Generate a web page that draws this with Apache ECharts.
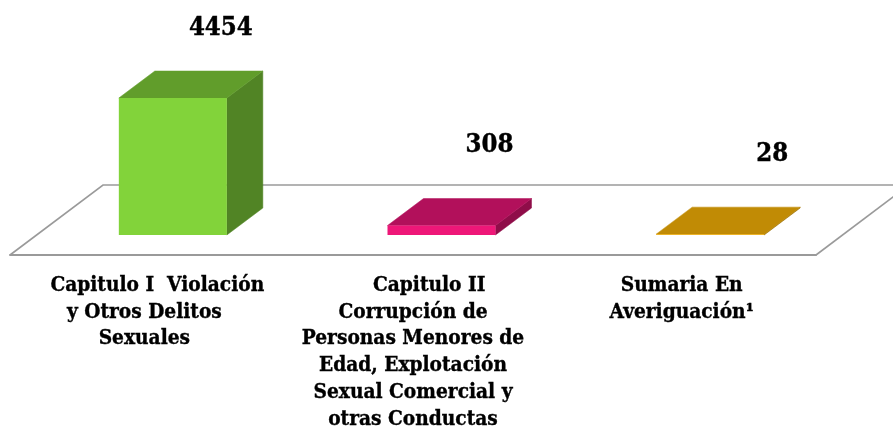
<!DOCTYPE html>
<html><head><meta charset="utf-8">
<style>html,body{margin:0;padding:0;background:#fff}#c{width:893px;height:427px}</style>
<script src="https://cdn.jsdelivr.net/npm/echarts@6/dist/echarts.min.js"></script>
</head><body><div id="c"></div>
<script>
const categories = [
  "    Capitulo I  Violación\ny Otros Delitos\nSexuales",
  "     Capitulo II\nCorrupción de\nPersonas Menores de\nEdad, Explotación\nSexual Comercial y\notras Conductas",
  "Sumaria En\nAveriguación¹"
];
const values = [4454, 308, 28];
const frontColors = ["#82D33A", "#EE1778", "#EFAC08"];
const topColors = ["#619D2B", "#B2105B", "#C18B05"];
const sideColors = ["#518425", "#8F0D49", "#9C7004"];
// layout (px offsets): hand-placed value labels relative to the bar's top
const labelNudgeX = [48, 48, 62];
const labelNudgeY = [-70, -80, -80];
const FONT = '"DejaVu Serif Condensed","DejaVu Serif",serif';
const chart = echarts.init(document.getElementById('c'), null, {renderer:'canvas'});
const DX = 36, DY = 27, SHIFT_X = 28.5, SHIFT_Y = 20, WIDTH_RATIO = 0.402;
chart.setOption({
  animation:false,
  backgroundColor:'#fff',
  grid:{left:10, width:806, top:118, bottom:172, containLabel:false, outerBoundsMode:'none'},
  xAxis:{type:'category', data:categories,
    axisLine:{show:true, lineStyle:{color:'#9a9a9a', width:2}},
    axisTick:{show:false},
    axisLabel:{interval:0, margin:17, hideOverlap:false, color:'#000', textBorderColor:'#000', textBorderWidth:0.35, fontFamily:FONT, fontWeight:'bold', fontSize:20.7, lineHeight:26.8, align:'center', verticalAlign:'top'}
  },
  yAxis:{type:'value', min:0, max:4454, show:false, splitLine:{show:false}},
  graphic:[{type:'polyline', z:0, silent:true,
    shape:{points:[[10,255],[103,185],[909,185]]},
    style:{stroke:'#9a9a9a', lineWidth:1.6, fill:null}},
    {type:'polyline', z:0, silent:true,
    shape:{points:[[816,255],[909,185]]},
    style:{stroke:'#9a9a9a', lineWidth:1.6, fill:null}}],
  series:[{type:'custom', clip:false, z:5, data:values.map((v,i)=>[i,v]),
    encode:{x:0,y:1},
    renderItem(params, api){
      const i = api.value(0);
      const top = api.coord([i, api.value(1)]);
      const base = api.coord([i, 0]);
      const w = api.size([1,0])[0]*WIDTH_RATIO;
      const l = top[0]+SHIFT_X-w/2, r = top[0]+SHIFT_X+w/2;
      const t = top[1]-SHIFT_Y, b = base[1]-SHIFT_Y;
      const poly = (pts,fill)=>({type:'polygon', shape:{points:pts}, style:{fill, stroke:fill, lineWidth:0.5}});
      return {type:'group', children:[
        poly([[r,b],[r+DX,b-DY],[r+DX,t-DY],[r,t]], sideColors[i]),
        poly([[l,t],[l+DX,t-DY],[r+DX,t-DY],[r,t]], topColors[i]),
        {type:'rect', shape:{x:l,y:t,width:r-l,height:b-t}, style:{fill:frontColors[i]}},
        {type:'text', x:top[0]+SHIFT_X+labelNudgeX[i], y:t+labelNudgeY[i],
         style:{text:String(api.value(1)), fill:'#000', stroke:'#000', lineWidth:0.4, font:'bold 25.5px '+FONT, align:'center', verticalAlign:'middle'}}
      ]};
    }
  }]
});
</script></body></html>
